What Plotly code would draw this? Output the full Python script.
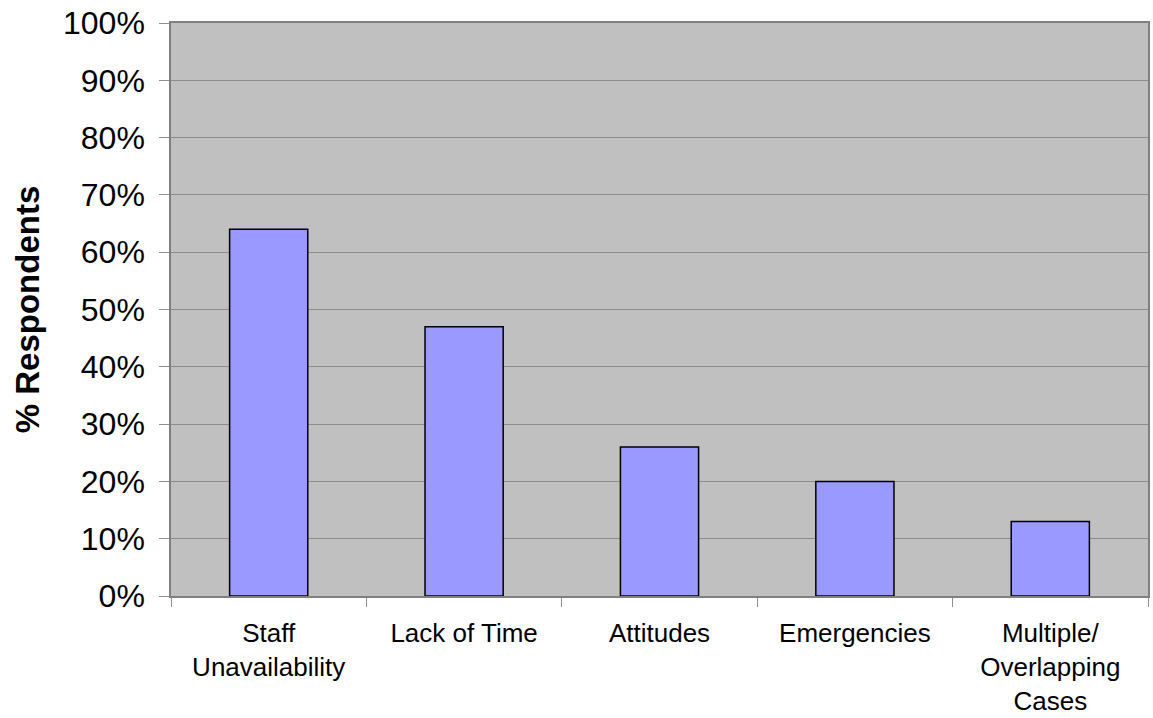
import plotly.graph_objects as go

# Barriers reported by respondents
categories = [
    "Staff<br>Unavailability",
    "Lack of Time",
    "Attitudes",
    "Emergencies",
    "Multiple/<br>Overlapping<br>Cases",
]
percent_respondents = [64, 47, 26, 20, 13]
y_ticks = list(range(0, 101, 10))
y_tick_labels = [f"{v}%" for v in y_ticks]

FONT = "Arial, 'Liberation Sans', sans-serif"

fig = go.Figure(
    go.Bar(
        x=categories,
        y=percent_respondents,
        marker=dict(color="#9999ff", line=dict(color="#000000", width=1.5)),
        width=0.4,
        hoverinfo="x+y",
    )
)

fig.update_layout(
    width=1153,
    height=718,
    margin=dict(l=171, r=5, t=23, b=122),
    paper_bgcolor="#ffffff",
    plot_bgcolor="#c0c0c0",
    showlegend=False,
    font=dict(family=FONT, color="#000000"),
)

fig.update_xaxes(
    automargin=False,
    showgrid=False,
    showline=True,
    linecolor="#808080",
    linewidth=1.5,
    mirror=True,
    ticks="outside",
    tickson="boundaries",
    ticklen=9,
    tickcolor="#909090",
    tickwidth=1,
    ticklabelstandoff=13,
    tickfont=dict(size=26, family=FONT),
)

fig.update_yaxes(
    automargin=False,
    range=[0, 100],
    tickvals=y_ticks,
    ticktext=y_tick_labels,
    showgrid=True,
    gridcolor="#8c8c8c",
    gridwidth=1,
    zeroline=False,
    showline=True,
    linecolor="#808080",
    linewidth=1.5,
    mirror=True,
    ticks="outside",
    ticklen=10,
    tickcolor="#909090",
    tickwidth=1,
    ticklabelstandoff=8,
    tickfont=dict(size=32, family=FONT),
    title=dict(
        text="<b>% Respondents</b>",
        font=dict(size=33, family=FONT),
        standoff=13,
    ),
)

fig.write_html("out.html")
